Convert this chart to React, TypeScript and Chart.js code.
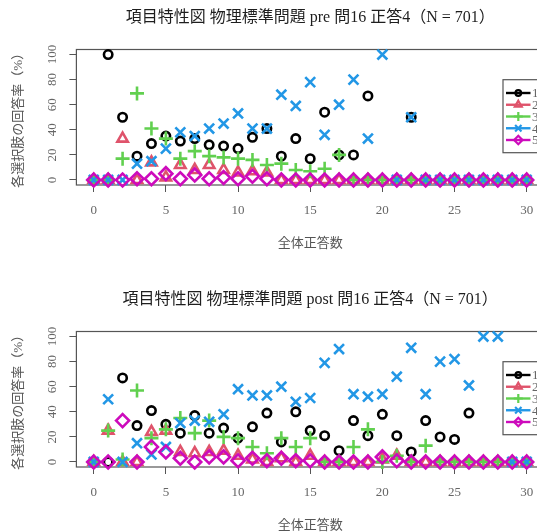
import { useEffect, useRef } from "react";
import { Chart, registerables } from "chart.js";
import { drawPoint } from "chart.js/helpers";

Chart.register(...registerables);

// Total correct-answer score (x) and axis tick values
const SCORES = [0, 1, 2, 3, 4, 5, 6, 7, 8, 9, 10, 11, 12, 13, 14, 15, 16, 17, 18, 19, 20, 21, 22, 23, 24, 25, 26, 27, 28, 29, 30];
const X_TICKS = [0, 5, 10, 15, 20, 25, 30];
const Y_TICKS = [0, 20, 40, 60, 80, 100];
const OPTION_LABELS = ["1", "2", "3", "4", "5"];

// Response rate (%) per option, pre test
const PRE_OPT1 = [0, 100, 50, 19, 29, 35, 31, 33, 28, 27, 25, 34, 41, 19, 33, 17, 54, 20, 20, 67, 0, 0, 50, 0, 0, 0, 0, 0, 0, 0, 0];
const PRE_OPT2 = [0, 0, 33, 0, 14, 2, 12, 8, 12, 8, 6, 7, 6, 0, 0, 0, 0, 0, 0, 0, 0, 0, 0, 0, 0, 0, 0, 0, 0, 0, 0];
const PRE_OPT3 = [0, 0, 17, 69, 41, 33, 17, 23, 19, 18, 17, 16, 12, 13, 8, 7, 9, 20, 0, 0, 0, 0, 0, 0, 0, 0, 0, 0, 0, 0, 0];
const PRE_OPT4 = [0, 0, 0, 13, 15, 25, 38, 35, 41, 45, 53, 41, 41, 68, 59, 78, 36, 60, 80, 33, 100, 0, 50, 0, 0, 0, 0, 0, 0, 0, 0];
const PRE_OPT5 = [0, 0, 0, 1, 1, 5, 1, 4, 1, 2, 1, 3, 1, 0, 0, 0, 0, 0, 0, 0, 0, 0, 0, 0, 0, 0, 0, 0, 0, 0, 0];

// Response rate (%) per option, post test
const POST_OPT1 = [0, 0, 67, 29, 41, 30, 23, 37, 23, 27, 19, 28, 39, 16, 40, 25, 21, 9, 33, 21, 38, 21, 8, 33, 20, 18, 39, 0, 0, 0, 0];
const POST_OPT2 = [0, 25, 0, 0, 24, 25, 8, 7, 8, 9, 5, 2, 0, 3, 0, 5, 0, 0, 0, 0, 2, 5, 0, 0, 0, 0, 0, 0, 0, 0, 0];
const POST_OPT3 = [0, 25, 2, 57, 19, 26, 35, 23, 33, 20, 19, 12, 7, 19, 12, 19, 0, 0, 12, 26, 0, 5, 0, 13, 0, 0, 0, 0, 0, 0, 0];
const POST_OPT4 = [0, 50, 0, 15, 6, 12, 31, 33, 32, 38, 58, 53, 53, 60, 48, 51, 79, 90, 54, 52, 54, 68, 91, 54, 80, 82, 61, 100, 100, 0, 0];
const POST_OPT5 = [0, 0, 33, 0, 12, 8, 3, 0, 4, 4, 1, 3, 1, 3, 1, 1, 0, 0, 0, 0, 4, 1, 0, 0, 0, 0, 0, 0, 0, 0, 0];

const PRE_TITLE = "項目特性図 物理標準問題 pre 問16 正答4（N = 701）";
const POST_TITLE = "項目特性図 物理標準問題 post 問16 正答4（N = 701）";
const X_TITLE = "全体正答数";
const Y_TITLE = "各選択肢の回答率（%）";

const COLORS = ["#000000", "#DF536B", "#61D04F", "#2297E6", "#CD0BBC"];
const STYLES = ["circle", "triangle", "cross", "crossRot", "rectRot"];
const RADII = [4.2, 6, 7, 7, 6.5];
const LEGEND_RADII = [2.8, 4, 4.5, 4.5, 4.2];

const FONT = '"Liberation Serif", "Noto Sans CJK JP", serif';
const W = 560;
const H = 282;

function ItemPanel({ title, series, top }: { title: string; series: number[][]; top: number }) {
  const ref = useRef<HTMLCanvasElement>(null);

  useEffect(() => {
    const canvas = ref.current;
    if (!canvas) return;

    const decorations = {
      id: "itemDecorations",
      beforeDatasetsDraw(chart: any) {
        const { ctx, chartArea: a } = chart;
        ctx.save();
        ctx.strokeStyle = "#555";
        ctx.lineWidth = 1.2;
        ctx.strokeRect(a.left, a.top, a.right - a.left, a.bottom - a.top);
        ctx.restore();
      },
      afterDraw(chart: any) {
        const { ctx, chartArea: a } = chart;
        const xs = chart.scales.x;
        const ys = chart.scales.y;
        const cx = (a.left + a.right) / 2;
        const cy = (a.top + a.bottom) / 2;
        ctx.save();

        // main title
        ctx.fillStyle = "#1e1e1e";
        ctx.font = `16px ${FONT}`;
        ctx.textAlign = "center";
        ctx.textBaseline = "middle";
        ctx.fillText(title, cx, 17.5);

        // tick labels
        ctx.fillStyle = "#666";
        ctx.font = `13px ${FONT}`;
        xs.ticks.forEach((t: any) => {
          ctx.fillText(String(t.value), xs.getPixelForValue(t.value), a.bottom + 25.5);
        });
        ys.ticks.forEach((t: any) => {
          ctx.save();
          ctx.translate(a.left - 23.4, ys.getPixelForValue(t.value));
          ctx.rotate(-Math.PI / 2);
          ctx.fillText(String(t.value), 0, 0);
          ctx.restore();
        });

        // axis titles
        ctx.fillStyle = "#555";
        ctx.font = `13px ${FONT}`;
        ctx.fillText(X_TITLE, cx, a.bottom + 58.5);
        ctx.save();
        ctx.translate(19, cy);
        ctx.rotate(-Math.PI / 2);
        ctx.fillText(Y_TITLE, 0, 0);
        ctx.restore();

        // legend
        const bx = 503;
        const by = 79.7;
        ctx.fillStyle = "#fff";
        ctx.fillRect(bx, by, 60, 73);
        ctx.strokeStyle = "#555";
        ctx.lineWidth = 1.2;
        ctx.strokeRect(bx, by, 60, 73);
        OPTION_LABELS.forEach((label, i) => {
          const ry = by + 13.3 + i * 11.75;
          ctx.strokeStyle = COLORS[i];
          ctx.lineWidth = 2.4;
          ctx.beginPath();
          ctx.moveTo(bx + 3, ry);
          ctx.lineTo(bx + 27.5, ry);
          ctx.stroke();
          ctx.fillStyle = "rgba(0,0,0,0)";
          ctx.lineWidth = 2.2;
          drawPoint(ctx, { pointStyle: STYLES[i], rotation: 0, radius: LEGEND_RADII[i], borderWidth: 2.2 } as any, bx + 15.3, ry);
          ctx.fillStyle = "#666";
          ctx.font = `13px ${FONT}`;
          ctx.textAlign = "left";
          ctx.textBaseline = "middle";
          ctx.fillText(label, bx + 29, ry + 1);
        });

        ctx.restore();
      },
    };

    const chart = new Chart(canvas, {
      type: "scatter",
      data: {
        datasets: series.map((vals, i) => ({
          label: OPTION_LABELS[i],
          data: SCORES.map((s, j) => ({ x: s, y: vals[j] })),
          pointStyle: STYLES[i] as any,
          pointRadius: RADII[i],
          pointBorderColor: COLORS[i],
          pointBackgroundColor: "rgba(0,0,0,0)",
          pointBorderWidth: 2.6,
          borderColor: COLORS[i],
          backgroundColor: "rgba(0,0,0,0)",
          showLine: false,
          clip: false as any,
          order: 4 - i,
        })),
      },
      options: {
        responsive: false,
        animation: false,
        devicePixelRatio: 1,
        events: [],
        layout: { padding: { top: 49.5, right: 16, left: 0, bottom: 0 } },
        plugins: {
          legend: { display: false },
          title: { display: false },
          tooltip: { enabled: false },
        },
        scales: {
          x: {
            type: "linear",
            min: -1.2,
            max: 31.2,
            afterBuildTicks: (s: any) => {
              s.ticks = X_TICKS.map((v) => ({ value: v }));
            },
            afterFit: (s: any) => {
              s.height = H - 185;
            },
            ticks: { display: false },
            grid: { drawOnChartArea: false, drawTicks: true, tickLength: 7, color: "#555", lineWidth: 1 },
            border: { display: false },
          },
          y: {
            type: "linear",
            min: -4,
            max: 104,
            afterBuildTicks: (s: any) => {
              s.ticks = Y_TICKS.map((v) => ({ value: v }));
            },
            afterFit: (s: any) => {
              s.width = 76.4;
            },
            ticks: { display: false },
            grid: { drawOnChartArea: false, drawTicks: true, tickLength: 7, color: "#555", lineWidth: 1 },
            border: { display: false },
          },
        },
      },
      plugins: [decorations],
    });

    return () => chart.destroy();
  }, [title, series]);

  return (
    <canvas
      ref={ref}
      width={W}
      height={H}
      style={{ position: "absolute", left: 0, top, width: W, height: H, display: "block" }}
    />
  );
}

const PRE_SERIES = [PRE_OPT1, PRE_OPT2, PRE_OPT3, PRE_OPT4, PRE_OPT5];
const POST_SERIES = [POST_OPT1, POST_OPT2, POST_OPT3, POST_OPT4, POST_OPT5];

export default function App() {
  return (
    <div
      style={{
        position: "fixed",
        left: 0,
        top: 0,
        width: 537,
        height: 532,
        overflow: "hidden",
        background: "#fff",
      }}
    >
      <ItemPanel title={PRE_TITLE} series={PRE_SERIES} top={0} />
      <ItemPanel title={POST_TITLE} series={POST_SERIES} top={282} />
    </div>
  );
}
